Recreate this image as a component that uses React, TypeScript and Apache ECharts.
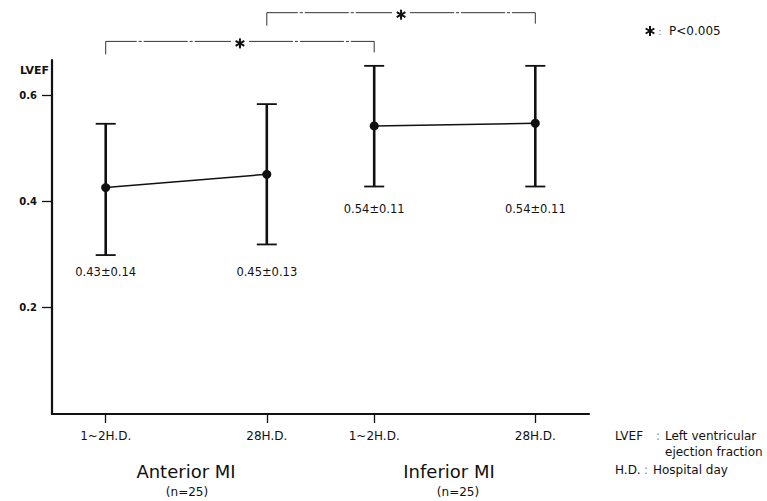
import React, { useEffect, useRef } from "react";
import * as echarts from "echarts";

// ---- data ----
const categories = ["1~2H.D.", "28H.D.", "1~2H.D.", "28H.D."];
const xPositions = [1, 4, 6, 9];
const groupNames = ["Anterior MI", "Inferior MI"];
const groupCounts = ["(n=25)", "(n=25)"];
const meanValues = [0.426, 0.451, 0.542, 0.547];
const upperValues = [0.546, 0.583, 0.655, 0.655];
const lowerValues = [0.299, 0.319, 0.428, 0.428];
const statLabels = ["0.43±0.14", "0.45±0.13", "0.54±0.11", "0.54±0.11"];
const statLabelY = [0.267, 0.267, 0.386, 0.386];
const yTicks = [0.2, 0.4, 0.6];
const bracketFrom = [0, 1];
const bracketTo = [2, 3];
const bracketLevel = [0.701, 0.755];

const FONT = "DejaVu Sans";
const INK = "#111";

// six-spoke asterisk drawn from lines, centred on (cx, cy)
const starLines = (cx: number, cy: number, r: number) =>
  [90, 30, 150].map((deg) => {
    const a = (deg * Math.PI) / 180;
    const dx = Math.cos(a) * r;
    const dy = Math.sin(a) * r;
    return {
      type: "line",
      shape: { x1: cx - dx, y1: cy - dy, x2: cx + dx, y2: cy + dy },
      style: { stroke: INK, lineWidth: 2 },
    };
  });

export default function App() {
  const ref = useRef<HTMLDivElement>(null);

  useEffect(() => {
    if (!ref.current) return;
    const chart = echarts.init(ref.current, undefined, { renderer: "svg" });

    const txt = (
      text: string,
      x: number,
      y: number,
      size: number,
      align: string = "left",
      weight: string = "normal",
      fill: string = INK
    ) => ({
      type: "text",
      x,
      y,
      style: {
        text,
        fill,
        fontSize: size,
        fontFamily: FONT,
        fontWeight: weight,
        align,
        verticalAlign: "middle",
        textAlign: align,
        textVerticalAlign: "middle",
      },
    });

    const option: any = {
      animation: false,
      grid: { left: 52, top: 60, right: 178, bottom: 87 },
      xAxis: {
        type: "value",
        min: 0,
        max: 10,
        splitLine: { show: false },
        axisLine: { show: true, lineStyle: { color: INK, width: 2.2 } },
        axisTick: {
          show: true,
          customValues: xPositions,
          length: 9,
          lineStyle: { color: INK, width: 1.3 },
        },
        axisLabel: {
          show: true,
          customValues: xPositions,
          margin: 16,
          color: INK,
          fontSize: 12,
          fontFamily: FONT,
          formatter: (v: number) => {
            const i = xPositions.indexOf(v);
            return i >= 0 ? categories[i] : "";
          },
        },
      },
      yAxis: {
        type: "value",
        min: 0,
        max: 0.666,
        splitLine: { show: false },
        axisLine: { show: true, lineStyle: { color: INK, width: 2.2 } },
        axisTick: {
          show: true,
          customValues: yTicks,
          length: 10,
          lineStyle: { color: INK, width: 1.3 },
        },
        axisLabel: {
          show: true,
          customValues: yTicks,
          margin: 15,
          color: INK,
          fontSize: 10,
          fontFamily: FONT,
          fontWeight: "bold",
          formatter: (v: number) => v.toFixed(1),
        },
      },
      series: [
        {
          type: "custom",
          name: "errorbars",
          clip: false,
          z: 2,
          data: xPositions.map((x, i) => [x, lowerValues[i], upperValues[i]]),
          encode: { x: 0, y: [1, 2] },
          renderItem: (_p: any, api: any) => {
            const x = api.value(0);
            const lo = api.coord([x, api.value(1)]);
            const hi = api.coord([x, api.value(2)]);
            const cap = 10;
            return {
              type: "group",
              children: [
                {
                  type: "line",
                  shape: { x1: lo[0], y1: lo[1], x2: hi[0], y2: hi[1] },
                  style: { stroke: INK, lineWidth: 2.6 },
                },
                {
                  type: "line",
                  shape: { x1: hi[0] - cap, y1: hi[1], x2: hi[0] + cap, y2: hi[1] },
                  style: { stroke: INK, lineWidth: 1.8 },
                },
                {
                  type: "line",
                  shape: { x1: lo[0] - cap, y1: lo[1], x2: lo[0] + cap, y2: lo[1] },
                  style: { stroke: INK, lineWidth: 1.8 },
                },
              ],
            };
          },
        },
        {
          type: "line",
          name: groupNames[0],
          z: 3,
          symbol: "circle",
          symbolSize: 9,
          itemStyle: { color: INK },
          lineStyle: { color: INK, width: 1.5 },
          data: [0, 1].map((i) => [xPositions[i], meanValues[i]]),
        },
        {
          type: "line",
          name: groupNames[1],
          z: 3,
          symbol: "circle",
          symbolSize: 9,
          itemStyle: { color: INK },
          lineStyle: { color: INK, width: 1.5 },
          data: [2, 3].map((i) => [xPositions[i], meanValues[i]]),
        },
        {
          type: "custom",
          name: "stats",
          clip: false,
          z: 4,
          data: xPositions.map((x, i) => [x, statLabelY[i], i]),
          encode: { x: 0, y: 1 },
          renderItem: (_p: any, api: any) => {
            const p = api.coord([api.value(0), api.value(1)]);
            const i = api.value(2);
            return {
              type: "text",
              x: p[0],
              y: p[1],
              style: {
                text: statLabels[i],
                fill: INK,
                fontSize: 11.5,
                fontFamily: FONT,
                align: "center",
                verticalAlign: "middle",
                textAlign: "center",
                textVerticalAlign: "middle",
              },
            };
          },
        },
        {
          type: "custom",
          name: "brackets",
          clip: false,
          z: 4,
          data: bracketFrom.map((f, i) => [xPositions[f], xPositions[bracketTo[i]], bracketLevel[i]]),
          encode: { x: [0, 1], y: 2 },
          renderItem: (_p: any, api: any) => {
            const lv = api.value(2);
            const a = api.coord([api.value(0), lv]);
            const b = api.coord([api.value(1), lv]);
            const mid = (a[0] + b[0]) / 2;
            const drop = 11;
            const gap = 9;
            const ls = { stroke: "#333", lineWidth: 1, lineDash: [44, 2, 3, 2], fill: null };
            return {
              type: "group",
              children: [
                {
                  type: "polyline",
                  shape: { points: [[a[0], a[1] + drop + 2], [a[0], a[1]], [mid - gap, a[1]]] },
                  style: ls,
                },
                {
                  type: "polyline",
                  shape: { points: [[mid + gap, b[1]], [b[0], b[1]], [b[0], b[1] + drop]] },
                  style: ls,
                },
                ...starLines(mid, a[1] + 2, 5),
              ],
            };
          },
        },
      ],
      graphic: [
        txt("LVEF", 20, 70, 11, "left", "bold"),
        { type: "group", children: starLines(650, 31, 5) },
        txt(":", 660, 31, 11, "center", "normal", "#888"),
        txt("P<0.005", 669, 31, 12),
        txt(groupNames[0], 186, 471, 18, "center"),
        txt(groupCounts[0], 187, 492, 12, "center"),
        txt(groupNames[1], 449, 471, 18, "center"),
        txt(groupCounts[1], 458, 492, 12, "center"),
        txt("LVEF", 615, 436, 12),
        txt(":", 658, 436, 12, "center", "normal", "#888"),
        txt("Left ventricular", 665, 436, 12),
        txt("ejection fraction", 665, 452, 12),
        txt("H.D.", 615, 470, 12),
        txt(":", 646, 470, 12, "center", "normal", "#888"),
        txt("Hospital day", 653, 470, 12),
      ],
    };

    chart.setOption(option);
    return () => chart.dispose();
  }, []);

  return (
    <div
      ref={ref}
      style={{ position: "absolute", left: 0, top: 0, width: 767, height: 501, background: "#fff" }}
    />
  );
}
